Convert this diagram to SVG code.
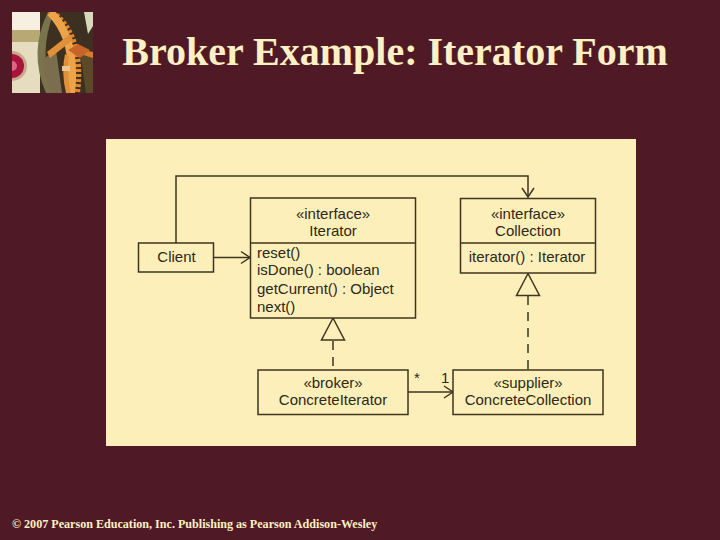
<svg xmlns="http://www.w3.org/2000/svg" width="720" height="540" viewBox="0 0 720 540">
<style>
.box{fill:#fdefb9;stroke:#3f3520;stroke-width:1.5}
.ln{fill:none;stroke:#3f3520;stroke-width:1.5}
.dash{fill:none;stroke:#3f3520;stroke-width:1.5;stroke-dasharray:9 7}
.t{font-family:"Liberation Sans",Arial,sans-serif;font-size:15px;fill:#2e2818}
.m{text-anchor:middle}
</style>
<defs>
<clipPath id="pc"><rect x="12" y="12" width="81" height="81"/></clipPath>
</defs>
<rect width="720" height="540" fill="#4f1a25"/>
<g id="picture" clip-path="url(#pc)">
<rect x="12" y="12" width="81" height="81" fill="#c4b78c"/>
<rect x="12" y="12" width="28" height="18" fill="#f7f0e0"/>
<rect x="12" y="30" width="28" height="12" fill="#b8a874"/>
<rect x="12" y="42" width="28" height="51" fill="#e6dcc0"/>
<circle cx="12" cy="66" r="15" fill="#c8a98c"/>
<circle cx="12" cy="66" r="12" fill="#a8143e"/>
<circle cx="12" cy="66" r="5" fill="#d86a80"/>
<rect x="40" y="12" width="53" height="81" fill="#3e3020"/>
<path d="M46 93Q28 52 48 12L54 12Q38 52 52 93Z" fill="#7a744c"/>
<path d="M42 60L56 50L62 93H50Z" fill="#7a6e4e"/>
<path d="M84 12L93 12V26L88 34Z" fill="#d8d8bc"/>
<path d="M80 50L93 52V93H86Z" fill="#5a4a2a"/>
<path d="M52 12Q84 36 77 93" fill="none" stroke="#e1882f" stroke-width="6" stroke-dasharray="3 2"/>
<path d="M50 12Q77 38 71 93" fill="none" stroke="#eda448" stroke-width="8"/>
<path d="M47 52L70 34L73 40L50 58Z" fill="#e0903a"/>
<path d="M72 48L93 52V58L74 52Z" fill="#d97c2c"/>
<path d="M68 50L78 44L90 50L80 58Z" fill="#c8642a"/>
<path d="M69 56Q66 74 71 93H66Q61 72 65 54Z" fill="#e0903a"/>
<rect x="62" y="66" width="8" height="5" fill="#e8c890"/>
</g>
<text x="395" y="65" text-anchor="middle" font-family="Liberation Serif,Times New Roman,serif" font-weight="bold" font-size="40" fill="#fdf0c4">Broker Example: Iterator Form</text>
<rect id="panel" x="106" y="139" width="530" height="307" fill="#fdefb9"/>
<g id="connectors">
<path class="ln" d="M176 243V176H528V197.500"/>
<path class="ln" d="M522 188L528 197L534 188"/>
<path class="ln" d="M214 257.500H250"/>
<path class="ln" d="M241 251.500L250 257.500L241 263.500"/>
<path class="dash" d="M528 296V370"/>
<path class="dash" d="M333 341V370"/>
<path class="ln" d="M408 392H453"/>
<path class="ln" d="M444 386L453 392L444 398"/>
<path class="box" d="M528 273.500L539.500 295.500H516.500Z"/>
<path class="box" d="M333 318L344.500 340H321.500Z"/>
</g>
<g id="client">
<rect class="box" x="138.500" y="243" width="75" height="29"/>
<text class="t m" x="176.500" y="262">Client</text>
</g>
<g id="iterator">
<rect class="box" x="250.500" y="198" width="165" height="120"/>
<path class="ln" d="M250.500 243H415.500"/>
<text class="t m" x="333" y="219">«interface»</text>
<text class="t m" x="333" y="236">Iterator</text>
<text class="t" x="257" y="258">reset()</text>
<text class="t" x="257" y="275">isDone() : boolean</text>
<text class="t" x="257" y="294">getCurrent() : Object</text>
<text class="t" x="257" y="312">next()</text>
</g>
<g id="collection">
<rect class="box" x="460.500" y="198.500" width="135" height="74.500"/>
<path class="ln" d="M460.500 243H595.500"/>
<text class="t m" x="528" y="219">«interface»</text>
<text class="t m" x="528" y="236">Collection</text>
<text class="t m" x="527" y="262">iterator() : Iterator</text>
</g>
<g id="concrete-iterator">
<rect class="box" x="258" y="370" width="150" height="44.500"/>
<text class="t m" x="333" y="388">«broker»</text>
<text class="t m" x="333" y="405">ConcreteIterator</text>
</g>
<g id="concrete-collection">
<rect class="box" x="453" y="370" width="150" height="44.500"/>
<text class="t m" x="528" y="388">«supplier»</text>
<text class="t m" x="528" y="405">ConcreteCollection</text>
</g>
<text class="t" x="414" y="383">*</text>
<text class="t" x="441" y="383">1</text>
<text x="12" y="528" font-family="Liberation Serif,Times New Roman,serif" font-weight="bold" font-size="12.1" fill="#fdf0c4">© 2007 Pearson Education, Inc. Publishing as Pearson Addison-Wesley</text>
</svg>
